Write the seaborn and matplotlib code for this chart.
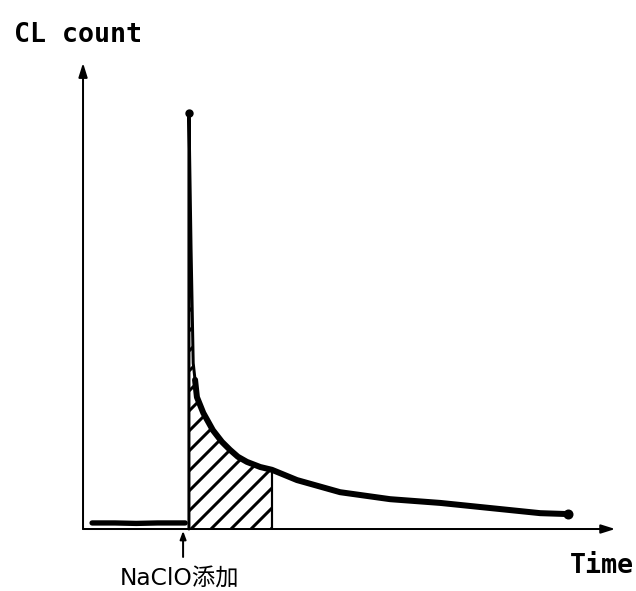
import numpy as np
import pandas as pd
import matplotlib
matplotlib.use("Agg")
import matplotlib.pyplot as plt
import seaborn as sns

# ---- data (arbitrary units) ----
baseline_t = [1.7, 6.0, 10.0, 14.0, 19.2]
baseline_cl = [1.3, 1.3, 1.2, 1.3, 1.3]

spike_t = [19.9, 19.9, 20.3, 20.7, 21.05]
spike_cl = [0.0, 89.3, 59.9, 35.6, 32.0]

decay_t = [21.05, 21.4, 22.6, 24.4, 26.1, 27.6, 29.1, 30.8, 33.3, 35.5, 40.2,
           48.3, 57.7, 67.1, 76.5, 85.9, 91.2]
decay_cl = [32.0, 28.3, 24.9, 21.2, 18.7, 17.0, 15.5, 14.4, 13.3, 12.7, 10.5,
            7.9, 6.4, 5.6, 4.5, 3.4, 3.2]

hatch_start, hatch_end = 19.9, 35.5
addition_t = 18.8

y_label = "CL count"
x_label = "Time"
event_label = "NaClO添加"

# ---- figure ----
DPI = 120
sns.set_style("white")
plt.rcParams["hatch.linewidth"] = 1.8
fig = plt.figure(figsize=(636 / DPI, 591 / DPI), dpi=DPI)
ax = fig.add_axes([0, 0, 1, 1])
ax.set_xlim(-15.6, 103.9)
ax.set_ylim(-13.3, 113.5)
ax.axis("off")

base_df = pd.DataFrame({"t": baseline_t, "cl": baseline_cl})
spike_df = pd.DataFrame({"t": spike_t, "cl": spike_cl})
decay_df = pd.DataFrame({"t": decay_t, "cl": decay_cl})

line_kw = dict(x="t", y="cl", ax=ax, color="black", sort=False,
               estimator=None, errorbar=None)
sns.lineplot(data=base_df, lw=3.2, **line_kw)
sns.lineplot(data=spike_df, lw=1.8, **line_kw)
sns.lineplot(data=decay_df, lw=3.6, solid_capstyle="round",
             solid_joinstyle="round", **line_kw)
ax.plot([spike_t[1]], [spike_cl[1]], "o", color="black", ms=4)
ax.plot([decay_t[-1]], [decay_cl[-1]], "o", color="black", ms=5)

# hatched area under the curve
all_t = np.array(spike_t[1:] + decay_t[1:])
all_cl = np.array(spike_cl[1:] + decay_cl[1:])
mask = (all_t >= hatch_start) & (all_t <= hatch_end)
ax.fill_between(all_t[mask], 0, all_cl[mask], facecolor="none",
                edgecolor="black", hatch="//", linewidth=0)
end_val = all_cl[all_t == hatch_end][0]
ax.vlines(hatch_end, 0, end_val, color="black", lw=1.3)

# axes with arrows
arrow_kw = dict(arrowstyle="-|>,head_length=0.7,head_width=0.22", color="black",
                lw=1.2, shrinkA=0, shrinkB=0)
ax.annotate("", xy=(100, 0), xytext=(0, 0), arrowprops=arrow_kw)
ax.annotate("", xy=(0, 100), xytext=(0, 0), arrowprops=arrow_kw)

# addition marker
ax.annotate("", xy=(addition_t, -0.4), xytext=(addition_t, -6.0),
            arrowprops=dict(arrowstyle="-|>,head_length=0.4,head_width=0.15",
                            color="black", lw=1.2, shrinkA=0, shrinkB=0))

ax.text(-13.0, 106.0, y_label, family=["DejaVu Sans Mono"], fontweight="bold",
        fontsize=16, ha="left", va="center", color="black")
ax.text(97.4, -7.9, x_label, family=["DejaVu Sans Mono"], fontweight="bold",
        fontsize=16, ha="center", va="center", color="black")
ax.text(18.2, -10.6, event_label,
        family=["Liberation Sans Narrow", "DejaVu Sans Condensed", "DejaVu Sans",
                "Noto Sans CJK JP"],
        fontsize=14, ha="center", va="center", color="black")

fig.savefig("out.png", dpi=DPI)
